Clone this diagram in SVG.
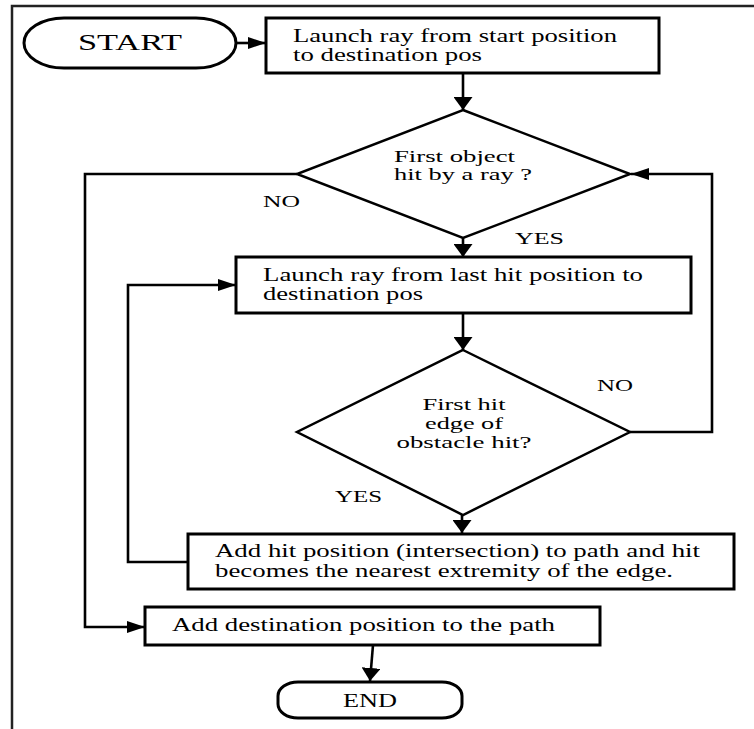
<svg xmlns="http://www.w3.org/2000/svg" width="754" height="729" viewBox="0 0 754 729">
<style>
  .shape { fill: #fff; stroke: #000; stroke-width: 3; }
  .dia { fill: #fff; stroke: #000; stroke-width: 2.5; }
  .conn { fill: none; stroke: #000; stroke-width: 2.6; }
  text { font-family: "Liberation Serif", "Times New Roman", serif; fill: #000; }
  .t { font-size: 18px; }
  .d { font-size: 17px; }
  .lbl { font-size: 17px; }
</style>
<defs>
  <marker id="ah" markerUnits="userSpaceOnUse" markerWidth="19" markerHeight="13" refX="18" refY="6" orient="auto">
    <path d="M0,0 L18,6 L0,12 Z" fill="#000"/>
  </marker>
  <marker id="av" markerUnits="userSpaceOnUse" markerWidth="14" markerHeight="19" refX="13" refY="9.5" orient="auto">
    <path d="M0,0 L13,9.5 L0,19 Z" fill="#000"/>
  </marker>
</defs>

<path d="M12,729 V6 H754" fill="none" stroke="#222" stroke-width="2.5"/>

<g id="connectors">
  <line class="conn" x1="236" y1="43" x2="266" y2="43" marker-end="url(#ah)"/>
  <line class="conn" x1="463" y1="73" x2="463" y2="110" marker-end="url(#av)"/>
  <line class="conn" x1="463" y1="238" x2="463" y2="257" marker-end="url(#av)"/>
  <line class="conn" x1="463" y1="313" x2="463" y2="350" marker-end="url(#av)"/>
  <line class="conn" x1="462" y1="515" x2="462" y2="533" marker-end="url(#av)"/>
  <polyline class="conn" points="630,432 712,432 712,174 631,174" marker-end="url(#ah)"/>
  <polyline class="conn" points="297,174 85,174 85,627 145,627" marker-end="url(#ah)"/>
  <polyline class="conn" points="188,562 128,562 128,285 236,285" marker-end="url(#ah)"/>
  <line class="conn" x1="373" y1="645" x2="370" y2="681" marker-end="url(#av)"/>
</g>

<g id="start">
  <rect class="shape" x="24" y="18" width="212" height="50" rx="40" ry="25"/>
  <text x="78" y="50" font-size="24" textLength="104" lengthAdjust="spacingAndGlyphs">START</text>
</g>

<g id="launch1">
  <rect class="shape" x="266" y="18" width="393" height="55"/>
  <text class="t" x="293" y="42" textLength="324" lengthAdjust="spacingAndGlyphs">Launch ray from start position</text>
  <text class="t" x="293" y="61" textLength="189" lengthAdjust="spacingAndGlyphs">to destination pos</text>
</g>

<g id="decision1">
  <polygon class="dia" points="463,110 630,174 463,238 297,174"/>
  <text class="d" x="394" y="162" textLength="121" lengthAdjust="spacingAndGlyphs">First object</text>
  <text class="d" x="394" y="180" textLength="138" lengthAdjust="spacingAndGlyphs">hit by a ray ?</text>
</g>

<g id="label-no1"><text class="lbl" x="263" y="207" textLength="37" lengthAdjust="spacingAndGlyphs">NO</text></g>
<g id="label-yes1"><text class="lbl" x="515" y="244" textLength="49" lengthAdjust="spacingAndGlyphs">YES</text></g>

<g id="launch2">
  <rect class="shape" x="236" y="257" width="455" height="56"/>
  <text class="t" x="263" y="281" textLength="380" lengthAdjust="spacingAndGlyphs">Launch ray from last hit position to</text>
  <text class="t" x="263" y="300" textLength="160" lengthAdjust="spacingAndGlyphs">destination pos</text>
</g>

<g id="decision2">
  <polygon class="dia" points="463,350 630,432 463,515 297,432"/>
  <text class="d" x="464" y="410" text-anchor="middle" textLength="83" lengthAdjust="spacingAndGlyphs">First hit</text>
  <text class="d" x="464" y="429" text-anchor="middle" textLength="78" lengthAdjust="spacingAndGlyphs">edge of</text>
  <text class="d" x="464" y="448" text-anchor="middle" textLength="135" lengthAdjust="spacingAndGlyphs">obstacle hit?</text>
</g>

<g id="label-no2"><text class="lbl" x="597" y="391" textLength="36" lengthAdjust="spacingAndGlyphs">NO</text></g>
<g id="label-yes2"><text class="lbl" x="335" y="502" textLength="47" lengthAdjust="spacingAndGlyphs">YES</text></g>

<g id="addhit">
  <rect class="shape" x="188" y="534" width="546" height="55"/>
  <text class="t" x="215" y="557" textLength="485" lengthAdjust="spacingAndGlyphs">Add hit position (intersection) to path and hit</text>
  <text class="t" x="215" y="577" textLength="458" lengthAdjust="spacingAndGlyphs">becomes the nearest extremity of the edge.</text>
</g>

<g id="adddest">
  <rect class="shape" x="145" y="607" width="455" height="38"/>
  <text class="t" x="172" y="631" textLength="383" lengthAdjust="spacingAndGlyphs">Add destination position to the path</text>
</g>

<g id="end">
  <rect class="shape" x="278" y="682" width="184" height="36" rx="20" ry="14"/>
  <text x="343" y="707" font-size="18" textLength="54" lengthAdjust="spacingAndGlyphs">END</text>
</g>
</svg>
